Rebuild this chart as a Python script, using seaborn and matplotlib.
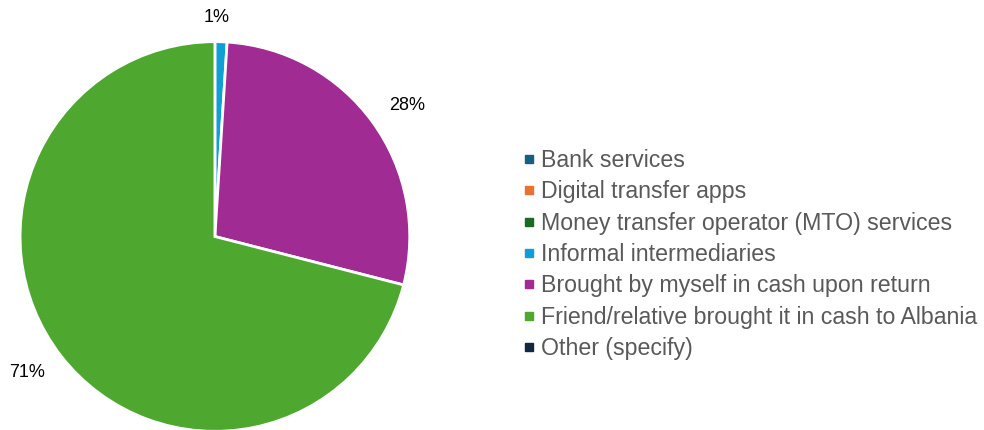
import matplotlib
matplotlib.use("Agg")
import matplotlib.pyplot as plt
import seaborn as sns
from matplotlib.lines import Line2D

sns.set_theme(style="white")
plt.rcParams['font.family'] = ['Liberation Sans', 'DejaVu Sans']

categories = ["Bank services", "Digital transfer apps", "Money transfer operator (MTO) services",
              "Informal intermediaries", "Brought by myself in cash upon return",
              "Friend/relative brought it in cash to Albania", "Other (specify)"]
values = [0, 0, 0, 1, 28, 71, 0]
colors = ["#156082", "#E97132", "#196B24", "#0F9ED5", "#A02B93", "#4EA72E", "#0E2841"]

fig = plt.figure(figsize=(9.84, 4.30), dpi=100)
ax = fig.add_axes([0.0204, -0.0035, 0.396, 0.907])

nz = [(v, c) for v, c in zip(values, colors) if v > 0]
vals = [v for v, _ in nz]
cols = [c for _, c in nz]
wedges, texts, autotexts = ax.pie(vals, colors=cols, startangle=90, counterclock=False,
                                  autopct='%.0f%%', pctdistance=1.2, radius=1.0,
                                  wedgeprops=dict(edgecolor="white", linewidth=2),
                                  textprops=dict(color="#000000", fontsize=13))
# label placement (layout only)
label_pos = [(0.01, 1.123), (0.985, 0.672), (-0.964, -0.697)]
for t, p in zip(autotexts, label_pos):
    t.set_position(p)
ax.set_xlim(-1, 1)
ax.set_ylim(-1, 1)
ax.set_aspect('equal')

handles = [Line2D([0], [0], marker='s', color='none', markerfacecolor=c, markeredgecolor=c,
                  markersize=6) for c in colors]
leg = fig.legend(handles, categories, loc='upper left', bbox_to_anchor=(0.522, 0.675),
                 frameon=False, fontsize=16.7, handlelength=0.5, handletextpad=0.3,
                 labelspacing=0.36, borderaxespad=0)
for t in leg.get_texts():
    t.set_color("#595959")

fig.savefig("out.png", dpi=100)
